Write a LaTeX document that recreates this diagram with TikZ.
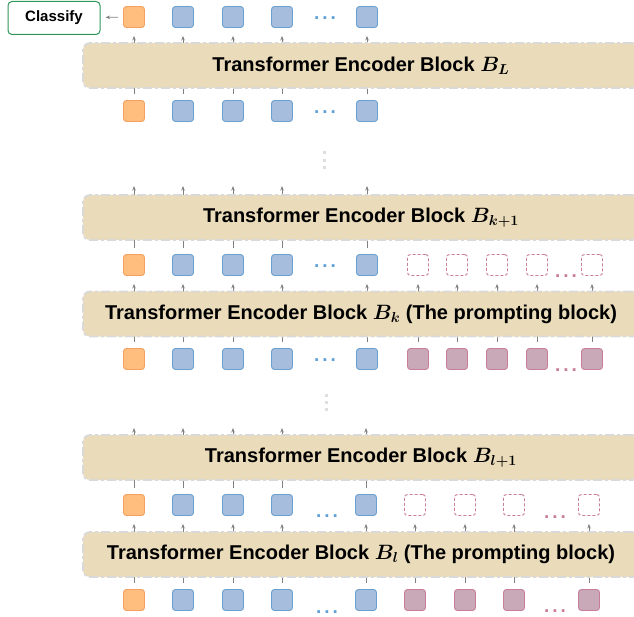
\documentclass[tikz,border=0pt]{standalone}
\usepackage{fontspec}
\usepackage{amsmath}
\usepackage{tikz}
\setmainfont{Liberation Sans}
\usetikzlibrary{arrows.meta}

\definecolor{clsfill}{RGB}{255,190,125}
\definecolor{clsedge}{RGB}{246,160,95}
\definecolor{tokfill}{RGB}{167,189,221}
\definecolor{tokedge}{RGB}{105,160,208}
\definecolor{prmfill}{RGB}{201,169,184}
\definecolor{prmedge}{RGB}{200,125,155}
\definecolor{blockfill}{RGB}{234,220,186}
\definecolor{classgreen}{RGB}{46,150,88}
\definecolor{dotblue}{RGB}{95,160,215}

\newcommand{\tokdots}{.\kern3pt.\kern3pt.}

\begin{document}
\begin{tikzpicture}[x=1pt, y=-1pt,
	token/.style={shape=rectangle, rounded corners=3pt, minimum size=21pt, inner sep=0pt, line width=0.9pt},
	cls/.style={token, draw=clsedge, fill=clsfill},
	tok/.style={token, draw=tokedge, fill=tokfill},
	prm/.style={token, draw=prmedge, fill=prmfill},
	gone/.style={token, draw=prmedge, dash pattern=on 3pt off 2pt},
	elide/.style={anchor=base, inner sep=0pt, font=\bfseries\fontsize{19}{22}\selectfont},
	vdot/.style={shape=rectangle, fill=gray!25, minimum size=3pt, inner sep=0pt},
	block/.style={shape=rectangle, rounded corners=7pt, fill=blockfill, draw=gray!30, line width=1.8pt,
		dash pattern=on 9pt off 3pt on 3pt off 3pt, minimum width=556pt, minimum height=45pt,
		font=\bfseries\boldmath\fontsize{20}{24}\selectfont},
	flow/.style={-{Stealth[length=4.5pt,width=3.5pt]}, draw=gray, line width=0.7pt, shorten >=8pt, shorten <=6pt},
	]
	
	\useasboundingbox (0,0) rectangle (634,617);
	\clip (0,0) rectangle (634,617);
	
	\node[shape=rectangle, rounded corners=4pt, draw=classgreen, line width=1pt, minimum width=92pt, minimum height=33pt,
		font=\bfseries\fontsize{15}{18}\selectfont] (classify) at (54,18) {Classify};
	
	\node[cls] (c1) at (134,17) {};
	\node[tok] (e1a) at (183,17) {};
	\node[tok] (e1b) at (233,17) {};
	\node[tok] (e1c) at (282,17) {};
	\node[elide, text=dotblue] (dots1) at (325,19.5) {\tokdots};
	\node[tok] (e1z) at (367,17) {};
	
	\node[cls] (c2) at (134,111) {};
	\node[tok] (e2a) at (183,111) {};
	\node[tok] (e2b) at (233,111) {};
	\node[tok] (e2c) at (282,111) {};
	\node[elide, text=dotblue] (dots2) at (325,113.5) {\tokdots};
	\node[tok] (e2z) at (367,111) {};
	
	\node[vdot] (vd1a) at (324,153) {};
	\node[vdot] (vd1b) at (324,160.5) {};
	\node[vdot] (vd1c) at (324,168) {};
	\coordinate (top3) at (0,186);
	
	\node[cls] (c3) at (134,265) {};
	\node[tok] (e3a) at (183,265) {};
	\node[tok] (e3b) at (233,265) {};
	\node[tok] (e3c) at (282,265) {};
	\node[elide, text=dotblue] (dots3) at (325,267.5) {\tokdots};
	\node[tok] (e3z) at (367,265) {};
	\node[gone] (p3a) at (418,265) {};
	\node[gone] (p3b) at (457,265) {};
	\node[gone] (p3c) at (497,265) {};
	\node[gone] (p3d) at (537,265) {};
	\node[elide, text=prmedge] (pdots3) at (566,278) {\tokdots};
	\node[gone] (p3z) at (592,265) {};
	
	\node[cls] (c4) at (134,359) {};
	\node[tok] (e4a) at (183,359) {};
	\node[tok] (e4b) at (233,359) {};
	\node[tok] (e4c) at (282,359) {};
	\node[elide, text=dotblue] (dots4) at (325,361.5) {\tokdots};
	\node[tok] (e4z) at (367,359) {};
	\node[prm] (p4a) at (418,359) {};
	\node[prm] (p4b) at (457,359) {};
	\node[prm] (p4c) at (497,359) {};
	\node[prm] (p4d) at (537,359) {};
	\node[elide, text=prmedge] (pdots4) at (566,371) {\tokdots};
	\node[prm] (p4z) at (592,359) {};
	
	\node[vdot] (vd2a) at (326,395) {};
	\node[vdot] (vd2b) at (326,402) {};
	\node[vdot] (vd2c) at (326,409) {};
	\coordinate (top5) at (0,428);
	
	\node[cls] (c5) at (134,505) {};
	\node[tok] (e5a) at (183,505) {};
	\node[tok] (e5b) at (233,505) {};
	\node[tok] (e5c) at (282,505) {};
	\node[elide, text=dotblue] (dots5) at (327,517) {\tokdots};
	\node[tok] (e5z) at (366,505) {};
	\node[gone] (p5a) at (415,505) {};
	\node[gone] (p5b) at (465,505) {};
	\node[gone] (p5c) at (514,505) {};
	\node[elide, text=prmedge] (pdots5) at (555,518) {\tokdots};
	\node[gone] (p5z) at (589,505) {};
	
	\node[cls] (c6) at (134,600) {};
	\node[tok] (e6a) at (183,600) {};
	\node[tok] (e6b) at (233,600) {};
	\node[tok] (e6c) at (282,600) {};
	\node[elide, text=dotblue] (dots6) at (327,613) {\tokdots};
	\node[tok] (e6z) at (366,600) {};
	\node[prm] (p6a) at (415,600) {};
	\node[prm] (p6b) at (465,600) {};
	\node[prm] (p6c) at (514,600) {};
	\node[elide, text=prmedge] (pdots6) at (555,612) {\tokdots};
	\node[prm] (p6z) at (589,600) {};
	
	\draw[flow, shorten >=5pt, shorten <=5pt] (c1) -- (classify);
	
	\draw[flow] (c2) -- (c1);
	\draw[flow] (e2a) -- (e1a);
	\draw[flow] (e2b) -- (e1b);
	\draw[flow] (e2c) -- (e1c);
	\draw[flow] (e2z) -- (e1z);
	
	\draw[flow, shorten >=0pt] (c3) -- (c3 |- top3);
	\draw[flow, shorten >=0pt] (e3a) -- (e3a |- top3);
	\draw[flow, shorten >=0pt] (e3b) -- (e3b |- top3);
	\draw[flow, shorten >=0pt] (e3c) -- (e3c |- top3);
	\draw[flow, shorten >=0pt] (e3z) -- (e3z |- top3);
	
	\draw[flow] (c4) -- (c3);
	\draw[flow] (e4a) -- (e3a);
	\draw[flow] (e4b) -- (e3b);
	\draw[flow] (e4c) -- (e3c);
	\draw[flow] (e4z) -- (e3z);
	\draw[flow] (p4a) -- (p3a);
	\draw[flow] (p4b) -- (p3b);
	\draw[flow] (p4c) -- (p3c);
	\draw[flow] (p4d) -- (p3d);
	\draw[flow] (p4z) -- (p3z);
	
	\draw[flow, shorten >=0pt] (c5) -- (c5 |- top5);
	\draw[flow, shorten >=0pt] (e5a) -- (e5a |- top5);
	\draw[flow, shorten >=0pt] (e5b) -- (e5b |- top5);
	\draw[flow, shorten >=0pt] (e5c) -- (e5c |- top5);
	\draw[flow, shorten >=0pt] (e5z) -- (e5z |- top5);
	
	\draw[flow] (c6) -- (c5);
	\draw[flow] (e6a) -- (e5a);
	\draw[flow] (e6b) -- (e5b);
	\draw[flow] (e6c) -- (e5c);
	\draw[flow] (e6z) -- (e5z);
	\draw[flow] (p6a) -- (p5a);
	\draw[flow] (p6b) -- (p5b);
	\draw[flow] (p6c) -- (p5c);
	\draw[flow] (p6z) -- (p5z);
	
	\node[block] (BL) at (361,65.5) {Transformer Encoder Block $B_L$};
	\node[block] (Bk1) at (361,217.5) {Transformer Encoder Block $B_{k+1}$};
	\node[block] (Bk) at (361,314) {Transformer Encoder Block $B_k$ (The prompting block)};
	\node[block] (Bl1) at (361,457.5) {Transformer Encoder Block $B_{l+1}$};
	\node[block] (Bl) at (361,554.5) {Transformer Encoder Block $B_l$ (The prompting block)};
	
\end{tikzpicture}
\end{document}
